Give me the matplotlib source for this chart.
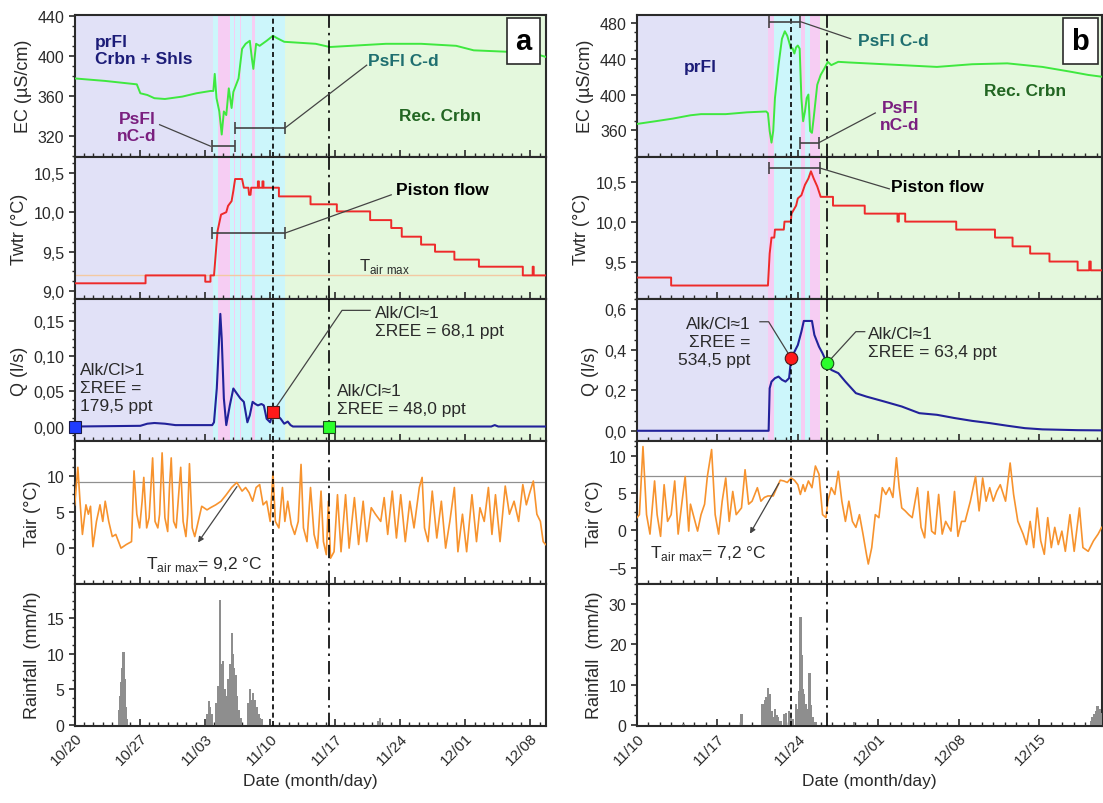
import numpy as np
import matplotlib
matplotlib.use("Agg")
import matplotlib.pyplot as plt
from matplotlib.ticker import MultipleLocator, AutoMinorLocator, FuncFormatter

plt.rcParams['font.family'] = ['Liberation Sans', 'DejaVu Sans']
plt.rcParams['mathtext.fontset'] = 'custom'
plt.rcParams['mathtext.rm'] = 'Liberation Sans'

# ---------------- event a (days since 10/20) ----------------
ticks_a = ['10/20', '10/27', '11/03', '11/10', '11/17', '11/24', '12/01', '12/08']
xmax_a = 50.64

ec_a_t = [0, 3.28, 6.68, 7.06, 7.81, 8.57, 9.70, 11.58, 13.09, 14.60, 14.91, 15.06, 15.25, 15.55,
          15.81, 16.04, 16.30, 16.57, 16.87, 17.06, 17.62, 18.00, 18.38, 18.83, 19.06, 19.21, 19.51,
          19.89, 20.64, 21.32, 21.77, 22.53, 25.92, 27.43, 29.70, 33.47, 37.25, 41.02, 42.91, 46.68,
          50.08, 50.64]
ec_a = [377.5, 375, 371.6, 362.7, 361, 357.8, 357, 359.4, 362.7, 365, 365, 382, 357.8, 344.6,
        321.6, 344.6, 341, 367.6, 348, 364, 377.5, 407, 412, 415, 397, 387, 412,
        410, 415, 420, 417.6, 414, 412, 408.8, 410, 412, 412, 410, 405.5, 404,
        400.5, 399]

tw_a_t = [0, 7.62, 7.62, 14.04, 14.04, 14.60, 14.60, 14.98, 15.36, 15.74, 16.30, 16.49, 16.87, 17.06,
          17.25, 18.00, 18.19, 18.68, 18.75, 18.91, 18.98, 19.70, 19.70, 19.81, 19.81, 20.19, 20.19,
          20.30, 20.30, 21.96, 21.96, 25.36, 25.36, 28.19, 28.19, 31.77, 31.77, 34.04, 34.04, 35.17,
          35.17, 37.25, 37.25, 38.75, 38.75, 40.83, 40.83, 43.47, 43.47, 48.19, 48.19, 49.25, 49.25,
          49.36, 49.36, 50.64]
tw_a = [9.10, 9.10, 9.20, 9.20, 9.12, 9.12, 9.20, 9.20, 9.76, 9.97, 10.00, 10.08, 10.14, 10.27,
        10.42, 10.42, 10.31, 10.31, 10.22, 10.22, 10.31, 10.31, 10.39, 10.39, 10.31, 10.31, 10.39,
        10.39, 10.31, 10.31, 10.20, 10.20, 10.10, 10.10, 10.01, 10.01, 9.90, 9.90, 9.80, 9.80,
        9.69, 9.69, 9.59, 9.59, 9.50, 9.50, 9.40, 9.40, 9.31, 9.31, 9.20, 9.20, 9.31,
        9.31, 9.20, 9.20]

q_a_t = [0, 7.06, 7.81, 8.57, 9.70, 10.83, 14.79, 14.98, 15.28, 15.66, 15.81, 16.04, 16.30, 16.68,
         17.06, 17.43, 17.81, 18.19, 18.57, 18.83, 19.13, 19.43, 19.70, 20.08, 20.34, 20.64, 21.02,
         21.32, 21.77, 22.15, 22.53, 22.91, 23.21, 23.47, 44.79, 45.17, 45.55, 50.64]
q_a = [0.000, 0.001, 0.004, 0.005, 0.004, 0.002, 0.002, 0.006, 0.054, 0.160, 0.125, 0.040, 0.002,
       0.030, 0.054, 0.047, 0.040, 0.035, 0.006, 0.016, 0.035, 0.032, 0.030, 0.032, 0.030, 0.011,
       0.006, 0.021, 0.016, 0.011, 0.004, 0.007, 0.002, 0.000, 0.000, 0.002, 0.000, 0.000]

tair_a_t = [0.00, 0.34, 0.57, 0.83, 1.21, 1.47, 1.70, 1.96, 2.34, 2.72, 3.02, 3.28, 3.66, 4.04, 4.42,
            4.98, 5.55, 6.11, 6.38, 6.68, 6.98, 7.25, 7.43, 7.74, 8.00, 8.38, 8.64, 8.94, 9.13, 9.40,
            9.70, 10.00, 10.19, 10.38, 10.64, 10.91, 11.13, 11.40, 11.66, 11.96, 12.15, 12.34, 12.64,
            12.91, 13.28, 13.66, 14.23, 14.60, 15.17, 15.74, 16.30, 16.87, 17.43, 18.00, 18.38, 18.75,
            19.13, 19.51, 19.89, 20.26, 20.64, 21.02, 21.32, 21.58, 21.96, 22.34, 22.60, 22.91, 23.28,
            23.66, 24.04, 24.34, 24.60, 24.98, 25.36, 25.74, 26.11, 26.49, 26.75, 27.06, 27.28, 27.51,
            27.89, 28.26, 28.64, 29.13, 29.51, 30.08, 30.53, 31.02, 31.40, 31.89, 32.34, 32.91, 33.28,
            33.66, 34.15, 34.60, 35.06, 35.55, 36.04, 36.49, 37.06, 37.36, 37.62, 38.00, 38.45, 38.94,
            39.43, 39.89, 40.34, 40.83, 41.21, 41.70, 42.15, 42.72, 43.21, 43.58, 44.04, 44.49, 44.87,
            45.25, 45.74, 46.30, 46.75, 47.25, 47.74, 48.19, 48.57, 48.87, 49.32, 49.70, 50.08, 50.38,
            50.64]
tair_a = [6.0, 11.2, 6.5, 1.9, 6.0, 4.7, 5.8, 0.2, 3.7, 6.0, 3.7, 6.5, 3.7, 1.6, 1.9,
          0.0, 0.5, 0.9, 10.7, 4.7, 2.8, 6.5, 9.8, 2.8, 4.2, 12.5, 3.7, 2.8, 4.7, 13.2,
          4.2, 2.3, 8.4, 12.5, 3.7, 2.8, 6.5, 11.2, 3.7, 1.6, 4.7, 11.7, 2.8,
          1.6, 3.7, 5.8, 5.3, 5.6, 6.0, 6.5, 7.4, 8.4, 9.1, 7.9, 8.4, 7.7,
          6.5, 8.4, 8.8, 6.0, 6.5, 3.7, 10.5, 3.7, 2.8, 8.4, 3.7, 6.5, 3.3,
          1.9, 3.7, 11.6, 2.8, 0.9, 8.4, 1.9, 0.0, 7.9, 0.9, -0.9, 6.5, -1.4,
          -0.5, 7.4, -0.5, 7.4, 0.0, 7.0, 0.5, 6.5, 0.9, 5.6, 4.7, 3.7, 7.0,
          1.9, 7.9, 1.4, 7.4, 0.9, 6.5, 2.8, 8.4, 9.8, 2.8, 0.9, 7.9, 1.4,
          6.5, 0.0, 3.7, 8.4, -0.5, 4.7, -0.5, 7.4, 0.9, 5.6, 3.7, 8.4, 1.9,
          7.4, 0.9, 8.6, 4.7, 6.5, 3.7, 8.8, 6.0, 7.4, 9.3, 4.7, 3.7, 0.9,
          0.5]

rain_a_t = [4.72, 4.87, 4.98, 5.09, 5.25, 5.36, 5.47, 5.62, 14.23, 14.42, 14.60, 14.79, 15.17, 15.36,
            15.55, 15.66, 15.81, 15.96, 16.11, 16.30, 16.49, 16.68, 16.87, 17.02, 17.17, 17.32, 17.47,
            17.62, 17.85, 18.68, 18.83, 19.02, 19.21, 19.40, 19.58, 19.77, 19.96, 20.19, 32.64, 32.79]
rain_a = [2.0, 4.0, 6.0, 8.0, 10.2, 6.5, 2.5, 0.8, 1.5, 3.3, 2.5, 1.5, 3.0, 5.5,
          4.0, 17.6, 8.5, 9.0, 5.0, 4.0, 6.5, 8.5, 12.9, 10.0, 8.0, 7.0, 4.0,
          2.0, 1.0, 3.0, 5.0, 3.5, 4.5, 3.5, 2.5, 1.5, 1.0, 0.8, 0.5, 0.9]

# ---------------- event b (days since 11/10) ----------------
ticks_b = ['11/10', '11/17', '11/24', '12/01', '12/08', '12/15']
xmax_b = 40.45

ec_b_t = [0.00, 1.59, 3.12, 4.65, 5.57, 7.72, 9.55, 11.24, 11.39, 11.54, 11.70, 11.85, 12.00, 12.31,
          12.61, 12.86, 13.07, 13.23, 13.38, 13.53, 13.69, 13.84, 13.99, 14.15, 14.30, 14.45, 14.61,
          14.76, 14.91, 15.06, 15.22, 15.37, 15.68, 15.98, 16.29, 16.60, 16.90, 17.51, 18.43, 19.96,
          23.03, 26.09, 29.15, 32.21, 35.27, 37.72, 39.25, 40.42]
ec_b = [367, 370, 373, 376.7, 378, 378, 380, 381, 379, 359, 346, 359, 396, 433,
        462.6, 471, 466, 459, 451.5, 452, 446, 453, 455, 451.5, 396, 370, 381,
        396, 400, 359, 357, 373.7, 411, 422, 429, 436.7, 433, 436.7, 436, 435,
        433, 431, 434, 435, 431, 425.6, 422, 420]

tw_b_t = [0, 2.97, 2.97, 11.39, 11.54, 11.70, 11.94, 12.00, 12.77, 12.83, 13.38, 13.44, 13.84, 13.99,
          14.30, 14.61, 14.91, 15.13, 15.37, 15.68, 15.98, 17.05, 17.05, 19.81, 19.81, 22.66, 22.66,
          22.78, 22.78, 23.33, 23.33, 27.77, 27.77, 31.14, 31.14, 32.67, 32.67, 34.20, 34.20, 35.88,
          35.88, 38.33, 38.33, 39.34, 39.34, 39.47, 39.47, 40.42]
tw_b = [9.30, 9.30, 9.20, 9.20, 9.60, 9.80, 9.80, 9.90, 9.90, 10.00, 10.00, 10.10, 10.20, 10.29,
        10.33, 10.46, 10.54, 10.63, 10.54, 10.44, 10.31, 10.31, 10.20, 10.20, 10.10, 10.10, 10.00,
        10.00, 10.10, 10.10, 10.00, 10.00, 9.90, 9.90, 9.80, 9.80, 9.69, 9.69, 9.60, 9.60,
        9.50, 9.50, 9.39, 9.39, 9.50, 9.50, 9.39, 9.39]

q_b_t = [0.00, 11.45, 11.54, 11.70, 12.00, 12.31, 12.61, 12.92, 13.23, 13.41, 13.69, 13.99, 14.30,
         14.51, 15.22, 15.43, 15.83, 16.14, 16.53, 16.90, 17.51, 18.13, 19.04, 19.96, 21.49, 23.03,
         24.56, 26.09, 27.62, 29.15, 30.68, 32.21, 33.74, 35.27, 38.33, 40.42]
q_b = [0.000, 0.000, 0.210, 0.243, 0.260, 0.268, 0.252, 0.243, 0.260, 0.359, 0.390, 0.424, 0.490,
       0.543, 0.543, 0.474, 0.416, 0.383, 0.334, 0.301, 0.285, 0.243, 0.186, 0.169, 0.145, 0.120,
       0.087, 0.079, 0.063, 0.049, 0.038, 0.025, 0.013, 0.007, 0.003, 0.002]

tair_b_t = [0.00, 0.21, 0.52, 0.83, 1.13, 1.53, 1.75, 2.05, 2.36, 2.66, 2.97, 3.28, 3.58, 3.89, 4.19,
            4.50, 4.65, 4.96, 5.27, 5.57, 5.88, 6.12, 6.49, 6.80, 7.10, 7.41, 7.72, 8.02, 8.33, 8.63,
            9.09, 9.40, 9.71, 10.01, 10.47, 10.78, 11.08, 11.39, 11.85, 12.16, 12.46, 12.77, 13.07,
            13.41, 13.69, 13.99, 14.21, 14.45, 14.61, 14.91, 15.22, 15.52, 15.83, 16.14, 16.44, 16.60,
            16.90, 17.21, 17.51, 17.82, 18.13, 18.43, 18.74, 19.04, 19.35, 19.66, 19.96, 20.12, 20.42,
            20.73, 21.04, 21.34, 21.65, 21.95, 22.26, 22.57, 22.81, 23.03, 23.33, 23.64, 23.94, 24.40,
            24.71, 25.02, 25.32, 25.63, 25.93, 26.24, 26.55, 26.85, 27.31, 27.62, 27.92, 28.23, 28.54,
            29.00, 29.45, 29.76, 30.07, 30.37, 30.68, 30.99, 31.29, 31.60, 32.06, 32.46, 32.76, 33.13,
            33.59, 33.89, 34.20, 34.51, 34.81, 35.12, 35.43, 35.73, 36.04, 36.34, 36.65, 36.96, 37.26,
            37.66, 38.03, 38.49, 38.79, 39.25, 39.71, 40.11, 40.42]
tair_b = [1.7, 2.1, 11.2, 2.1, -0.5, 6.6, 2.1, -0.8, 6.1, 1.2, 2.1, 6.6, -0.5, 3.5, 7.2,
          -0.1, 3.5, 1.7, -0.1, 2.1, 3.5, 7.2, 10.8, 2.1, -0.5, 3.9, 7.0, 1.2, 5.2, 2.1,
          3.0, 8.1, 3.5, 3.9, 5.7, 3.9, 4.4, 4.6, 4.6, 5.7, 6.7, 6.6, 6.4,
          7.0, 6.7, 6.1, 4.8, 6.1, 5.2, 6.6, 5.7, 8.6, 7.5, 2.1, 1.7, 3.9,
          5.7, 4.8, 7.9, 3.9, 1.2, 3.9, 1.2, 0.4, 2.1, -0.5, -3.2, -4.5, -2.3,
          2.1, 1.7, 5.7, 4.8, 5.7, 4.4, 9.7, 5.7, 3.0, 2.6, 2.1, 1.7, 5.7,
          0.4, -1.0, 5.2, -0.1, -0.5, 4.8, -0.5, 1.2, -0.1, 5.2, -0.8, 1.2, 1.2,
          3.9, 7.2, 2.6, 7.0, 3.9, 5.7, 3.9, 5.2, 6.1, 3.9, 9.0, 4.8, 1.2,
          -0.5, -1.9, 1.2, -2.3, 3.0, -1.4, -3.2, 1.7, -2.3, 0.4, -1.9, -0.1, -2.8,
          2.1, -2.8, 3.0, -2.3, -2.8, -1.4, -0.5, 0.4]

rain_b_t = [4.04, 9.09, 10.93, 11.15, 11.27, 11.39, 11.54, 11.76, 11.88, 12.00, 12.12, 12.25, 12.46,
            12.77, 12.98, 13.23, 13.41, 13.53, 13.84, 13.99, 14.08, 14.24, 14.36, 14.45, 14.51, 14.67,
            14.82, 14.91, 15.00, 15.13, 15.31, 15.52, 18.89, 39.50, 39.62, 39.77, 39.93, 40.08, 40.23,
            40.36]
rain_b = [0.3, 2.7, 5.1, 6.3, 7.0, 9.2, 7.6, 3.5, 2.0, 3.9, 2.5, 1.9, 1.0,
          2.7, 3.1, 3.5, 2.0, 1.5, 5.1, 4.0, 8.4, 26.7, 17.3, 9.0, 7.6, 5.1,
          3.0, 4.0, 12.8, 5.0, 1.9, 0.8, 0.7, 1.0, 1.9, 2.8, 3.5, 4.7, 3.9,
          3.0]

# flow-phase shading (start, end, colour key)
phases_a = [(-1, 14.87, 'pr'), (14.87, 15.36, 'c'), (15.36, 16.68, 'p'), (16.68, 22.6, 'c'),
            (17.12, 17.22, 'p'), (17.76, 17.86, 'p'), (19.06, 19.43, 'p'), (22.6, 60, 'g')]
phases_b = [(-1, 11.39, 'pr'), (11.39, 11.91, 'p'), (11.91, 14.30, 'c'), (14.30, 14.61, 'p'),
            (14.61, 15.06, 'c'), (15.06, 15.92, 'p'), (15.92, 60, 'g')]
sample_a = (21.32, 27.36)
sample_b = (13.41, 16.53)

shade = {'pr': '#e1e1f7', 'c': '#ccf6fb', 'p': '#f6cdf3', 'g': '#e4f8dd'}
c_ec, c_tw, c_q, c_ta, c_rain = '#3fe83f', '#ee2a2a', '#22229a', '#f7932e', '#8e8e8e'
c_pr, c_nc, c_cd, c_rec = '#1c1c78', '#7a1f7f', '#1f6f70', '#226622'
ink = '#2a2a2a'
lk = '#444444'

fig = plt.figure(figsize=(11.03, 8.04), dpi=100)
W, H = 1103.0, 804.0
top_px, row_px = 15.7, 142.2


def comma(dec):
    return FuncFormatter(lambda v, p: ('%.*f' % (dec, v)).replace('.', ','))


def make_axes(left_px, right_px):
    axs = []
    for i in range(5):
        b = 1 - (top_px + row_px * (i + 1)) / H
        axs.append(fig.add_axes([left_px / W, b, (right_px - left_px) / W, row_px / H]))
    return axs


def style(ax, xmax, labels, last):
    ax.set_xlim(0, xmax)
    ax.xaxis.set_major_locator(MultipleLocator(7))
    ax.xaxis.set_minor_locator(MultipleLocator(1))
    ax.tick_params(axis='x', which='major', direction='in', length=5, width=1.2, colors=ink,
                   labelsize=11, bottom=True, top=False)
    ax.tick_params(axis='x', which='minor', direction='in', length=3, width=1.0, colors=ink)
    ax.tick_params(axis='y', which='major', direction='out', length=4, width=1.2, colors=ink,
                   labelsize=11.5)
    ax.tick_params(axis='y', which='minor', direction='out', length=2, width=1.0, colors=ink)
    ax.yaxis.set_minor_locator(AutoMinorLocator(4))
    for s in ax.spines.values():
        s.set_linewidth(1.5)
        s.set_color(ink)
    if last:
        ax.set_xticks(np.arange(len(labels)) * 7)
        ax.set_xticklabels(labels, rotation=45, ha='right', rotation_mode='anchor')
        ax.set_xlabel('Date (month/day)', fontsize=12.5, color=ink, labelpad=4)
    else:
        ax.tick_params(axis='x', labelbottom=False)


def range_bar(ax, x0, x1, y):
    ax.errorbar((x0 + x1) / 2, y, xerr=(x1 - x0) / 2, fmt='none', ecolor=lk, elinewidth=1.2,
                capsize=4, capthick=1.2, zorder=5)


def panel(axs, xmax, labels, phases, sample, ec, tw, q, ta, rain):
    for i, ax in enumerate(axs):
        style(ax, xmax, labels, i == 4)
        if i < 3:
            for x0, x1, k in phases:
                ax.axvspan(x0, x1, color=shade[k], lw=0, zorder=0)
        ax.axvline(sample[0], color='k', ls=(0, (3, 2)), lw=1.2, zorder=4)
        ax.axvline(sample[1], color='k', ls=(0, (8, 3, 1.5, 3)), lw=1.2, zorder=4)
    axs[0].plot(*ec, color=c_ec, lw=1.4, zorder=3)
    axs[1].plot(*tw, color=c_tw, lw=1.4, zorder=3)
    axs[2].plot(*q, color=c_q, lw=1.5, zorder=3)
    axs[3].plot(*ta, color=c_ta, lw=1.2, zorder=3)
    axs[4].bar(rain[0], rain[1], width=0.22, color=c_rain, lw=0, zorder=3)
    axs[0].set_ylabel('EC (µS/cm)', fontsize=13, color=ink)
    axs[1].set_ylabel('Twtr (°C)', fontsize=13, color=ink)
    axs[2].set_ylabel('Q (l/s)', fontsize=13, color=ink)
    axs[3].set_ylabel('Tair (°C)', fontsize=13, color=ink)
    axs[4].set_ylabel('Rainfall  (mm/h)', fontsize=13, color=ink)


def letter(ax, s):
    ax.text(0.953, 0.815, s, transform=ax.transAxes, fontsize=21, fontweight='bold', ha='center',
            va='center', color='k', zorder=6,
            bbox=dict(boxstyle='square,pad=0.3', fc='white', ec=ink, lw=1.2))


bold = dict(fontsize=12.5, fontweight='bold', zorder=6)
norm = dict(fontsize=12.5, color=ink, zorder=6)

# ---------------- panel a ----------------
A = make_axes(74.7, 545.6)
panel(A, xmax_a, ticks_a, phases_a, sample_a, (ec_a_t, ec_a), (tw_a_t, tw_a), (q_a_t, q_a),
      (tair_a_t, tair_a), (rain_a_t, rain_a))
A[0].set_ylim(299.3, 441)
A[0].yaxis.set_major_locator(MultipleLocator(40))
A[1].set_ylim(8.9, 10.7)
A[1].yaxis.set_major_locator(MultipleLocator(0.5))
A[1].yaxis.set_major_formatter(comma(1))
A[2].set_ylim(-0.021, 0.181)
A[2].yaxis.set_major_locator(MultipleLocator(0.05))
A[2].yaxis.set_major_formatter(comma(2))
A[3].set_ylim(-4.9, 14.8)
A[3].yaxis.set_major_locator(MultipleLocator(5))
A[4].set_ylim(-0.15, 19.9)
A[4].yaxis.set_major_locator(MultipleLocator(5))
letter(A[0], 'a')

A[0].text(2.15, 405.5, 'prFl\nCrbn + Shls', color=c_pr, ha='left', va='center', linespacing=1.15, **bold)
A[0].text(6.68, 329, 'PsFl\nnC-d', color=c_nc, ha='center', va='center', linespacing=1.15, **bold)
A[0].text(31.5, 395.6, 'PsFl C-d', color=c_cd, ha='left', va='center', **bold)
A[0].text(39.3, 340.7, 'Rec. Crbn', color=c_rec, ha='center', va='center', **bold)
range_bar(A[0], 14.79, 17.25, 310)
range_bar(A[0], 17.25, 22.6, 328)
A[0].plot([9.13, 14.6], [331.4, 310], color=lk, lw=0.9, zorder=5)
A[0].plot([22.6, 31.4], [328, 390.7], color=lk, lw=0.9, zorder=5)

A[1].axhline(9.2, color='#f3c9a2', lw=1.0, zorder=2)
range_bar(A[1], 14.79, 22.6, 9.735)
A[1].plot([22.6, 34.04], [9.735, 10.22], color=lk, lw=0.9, zorder=5)
A[1].text(34.6, 10.29, 'Piston flow', color='k', ha='left', va='center', **bold)
A[1].text(33.3, 9.33, r'T$_{\rm air\ max}$', ha='center', va='center', fontsize=12, color=ink, zorder=6)

A[2].plot(0, 0.0, 's', ms=8, mfc='#1f3cff', mec='#1a1a4a', mew=0.8, clip_on=False, zorder=7)
A[2].plot(sample_a[0], 0.021, 's', ms=8, mfc='#ff1a1a', mec='#4a1a1a', mew=0.8, zorder=7)
A[2].plot(sample_a[1], 0.0, 's', ms=8, mfc='#2bff2b', mec='#1a4a1a', mew=0.8, zorder=7)
A[2].text(0.57, 0.056, 'Alk/Cl>1\nΣREE =\n179,5 ppt', ha='left', va='center', linespacing=1.25, **norm)
A[2].text(32.34, 0.1485, 'Alk/Cl≈1\nΣREE = 68,1 ppt', ha='left', va='center', linespacing=1.25, **norm)
A[2].text(28.19, 0.039, 'Alk/Cl≈1\nΣREE = 48,0 ppt', ha='left', va='center', linespacing=1.25, **norm)
A[2].plot([sample_a[0], 28.75, 31.77], [0.021, 0.165, 0.165], color=lk, lw=0.9, zorder=5)

A[3].axhline(9.2, color='#909090', lw=0.9, zorder=2)
A[3].annotate('', xy=(13.09, 0.47), xytext=(17.62, 8.84),
              arrowprops=dict(arrowstyle='-|>', color=lk, lw=0.9, mutation_scale=8), zorder=6)
A[3].text(7.62, -2.1, r'T$_{\rm air\ max}$= 9,2 °C', ha='left', va='center', **norm)

# ---------------- panel b ----------------
B = make_axes(637, 1102)
panel(B, xmax_b, ticks_b, phases_b, sample_b, (ec_b_t, ec_b), (tw_b_t, tw_b), (q_b_t, q_b),
      (tair_b_t, tair_b), (rain_b_t, rain_b))
B[0].set_ylim(330, 489.6)
B[0].yaxis.set_major_locator(MultipleLocator(40))
B[1].set_ylim(9.03, 10.81)
B[1].yaxis.set_major_locator(MultipleLocator(0.5))
B[1].yaxis.set_major_formatter(comma(1))
B[2].set_ylim(-0.052, 0.651)
B[2].yaxis.set_major_locator(MultipleLocator(0.2))
B[2].yaxis.set_major_formatter(comma(1))
B[3].set_ylim(-7.1, 11.9)
B[3].yaxis.set_major_locator(MultipleLocator(5))
B[4].set_ylim(-0.15, 35)
B[4].yaxis.set_major_locator(MultipleLocator(10))
letter(B[0], 'b')

B[0].text(5.51, 431, 'prFl', color=c_pr, ha='center', va='center', **bold)
B[0].text(19.2, 460.7, 'PsFl C-d', color=c_cd, ha='left', va='center', **bold)
B[0].text(22.87, 376, 'PsFl\nnC-d', color=c_nc, ha='center', va='center', linespacing=1.15, **bold)
B[0].text(33.74, 404, 'Rec. Crbn', color=c_rec, ha='center', va='center', **bold)
range_bar(B[0], 11.45, 14.21, 481.8)
range_bar(B[0], 14.21, 15.83, 346)
B[0].plot([14.21, 18.59], [481.8, 462.6], color=lk, lw=0.9, zorder=5)
B[0].plot([15.83, 20.73], [346, 379.3], color=lk, lw=0.9, zorder=5)

range_bar(B[1], 11.45, 15.92, 10.67)
B[1].plot([15.92, 21.95], [10.67, 10.41], color=lk, lw=0.9, zorder=5)
B[1].text(22.1, 10.44, 'Piston flow', color='k', ha='left', va='center', **bold)

B[2].plot(sample_b[0], 0.359, 'o', ms=9, mfc='#ff1a1a', mec='#4a1a1a', mew=0.8, zorder=7)
B[2].plot(sample_b[1], 0.334, 'o', ms=9, mfc='#2bff2b', mec='#1a4a1a', mew=0.8, zorder=7)
B[2].text(9.86, 0.44, 'Alk/Cl≈1\nΣREE =\n534,5 ppt', ha='right', va='center', linespacing=1.25, **norm)
B[2].text(20.12, 0.4375, 'Alk/Cl≈1\nΣREE = 63,4 ppt', ha='left', va='center', linespacing=1.25, **norm)
B[2].plot([10.69, 11.45, sample_b[0]], [0.539, 0.539, 0.359], color=lk, lw=0.9, zorder=5)
B[2].plot([sample_b[1], 19.04, 19.81], [0.334, 0.49, 0.49], color=lk, lw=0.9, zorder=5)

B[3].axhline(7.2, color='#909090', lw=0.9, zorder=2)
B[3].annotate('', xy=(9.71, -0.76), xytext=(12.46, 6.6),
              arrowprops=dict(arrowstyle='-|>', color=lk, lw=0.9, mutation_scale=8), zorder=6)
B[3].text(1.13, -2.98, r'T$_{\rm air\ max}$= 7,2 °C', ha='left', va='center', **norm)

fig.savefig('out.png', dpi=100)
